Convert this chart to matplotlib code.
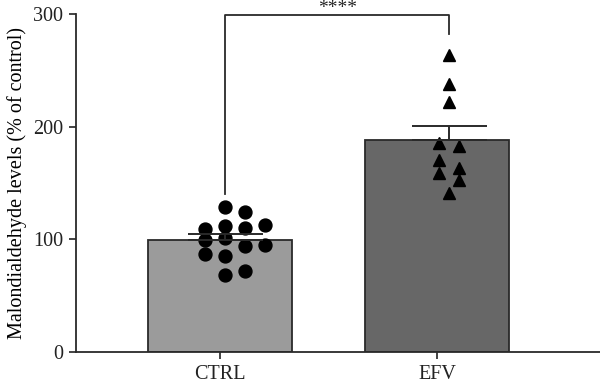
import matplotlib

matplotlib.use("Agg")
import matplotlib.pyplot as plt

# ---------- Data ----------
groups = ["CTRL", "EFV"]
bar_means = [99.5, 188.3]
bar_sem = [5.0, 12.6]

ctrl_x_off = [-0.092, -0.092, -0.092, 0.0, 0.0, 0.0, 0.0, 0.0,
              0.092, 0.092, 0.092, 0.092, 0.184, 0.184]
ctrl_vals = [108.9, 98.8, 86.6, 128.5, 111.5, 101.2, 84.6, 68.3,
             124.0, 109.8, 94.1, 71.2, 112.8, 94.4]

efv_x_off = [0.0, 0.0, 0.0, -0.046, 0.046, -0.046, -0.046, 0.046, 0.046, 0.0]
efv_vals = [263.8, 238.0, 221.7, 185.4, 183.1, 170.7, 159.1, 163.2, 152.9, 140.7]

# scatter / error bar centres sit slightly right of the bar centres
point_centres = [0.025, 1.057]
sig_label = "****"
bracket_ends = [140.3, 281.9]
bracket_top = 299.5

# ---------- Style ----------
BAR_COLORS = ["#9b9b9b", "#676767"]
EDGE = "#2a2a2a"
FONT = ["Liberation Serif", "DejaVu Serif"]

plt.rcParams["font.family"] = FONT

fig = plt.figure(figsize=(6.0, 3.83), dpi=100)
ax = fig.add_axes([0.126, 0.082, 0.874, 0.8814])

ax.bar(range(len(groups)), bar_means, width=0.663, color=BAR_COLORS,
       edgecolor=EDGE, linewidth=1.3, zorder=2)

ax.plot([point_centres[0] + o for o in ctrl_x_off], ctrl_vals, "o",
        color="black", markersize=9.3, zorder=3)
ax.plot([point_centres[1] + o for o in efv_x_off], efv_vals, "^",
        color="black", markersize=8.5, zorder=3)

ax.errorbar(point_centres, bar_means, yerr=[[0, 0], bar_sem], fmt="none",
            ecolor=EDGE, elinewidth=1.4, capsize=27, capthick=1.4, zorder=4)

# significance bracket
ax.plot([point_centres[0], point_centres[0], point_centres[1], point_centres[1]],
        [bracket_ends[0], bracket_top, bracket_top, bracket_ends[1]],
        color=EDGE, linewidth=1.3, clip_on=False, zorder=4)
ax.text(sum(point_centres) / 2, 300.5, sig_label, ha="center", va="baseline",
        fontsize=14, color="#222222")

ax.set_xlim(-0.664, 1.750)
ax.set_ylim(0, 300)
ax.set_yticks([0, 100, 200, 300])
ax.set_xticks(range(len(groups)))
ax.set_xticklabels(groups)
ax.tick_params(axis="both", labelsize=14.5, length=5, width=1.2, colors="#222222")
ax.tick_params(axis="x", pad=5)
ax.tick_params(axis="y", pad=4)
ax.set_ylabel("Malondialdehyde levels (% of control)", fontsize=14.5, labelpad=4)

for side in ("top", "right"):
    ax.spines[side].set_visible(False)
for side in ("left", "bottom"):
    ax.spines[side].set_linewidth(1.3)
    ax.spines[side].set_color(EDGE)

fig.savefig("out.png", dpi=100, facecolor="white")
